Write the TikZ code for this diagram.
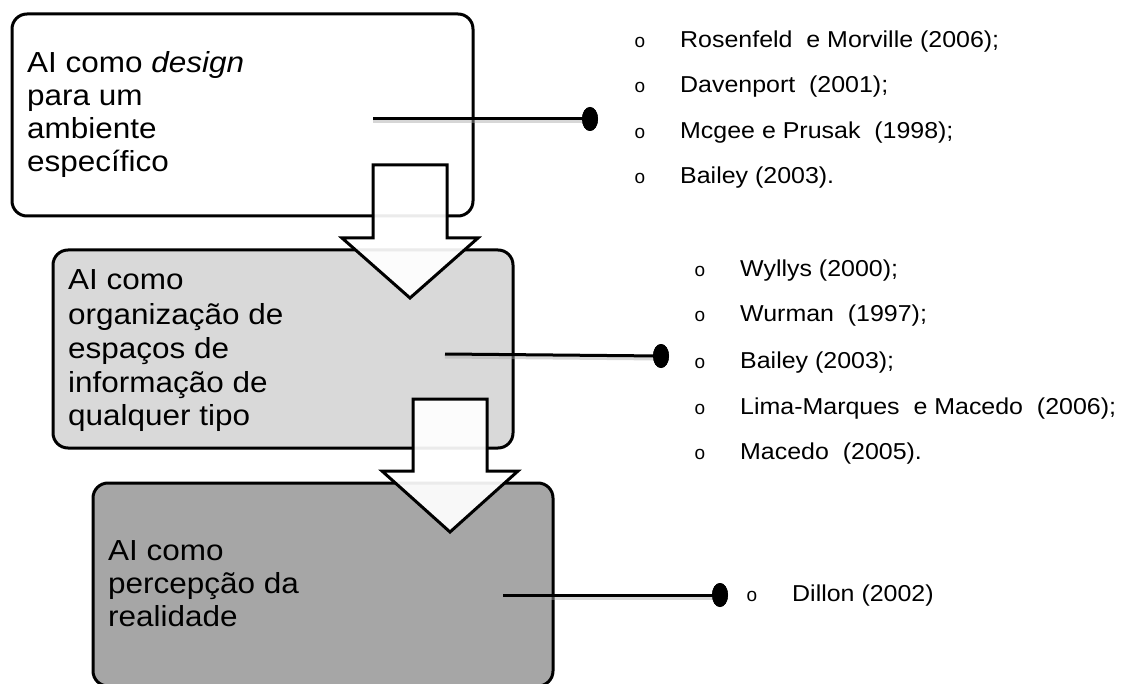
\documentclass[tikz,border=0pt]{standalone}
\usepackage{fontspec}
\setmainfont{Liberation Sans}[FakeStretch=1.085]
\newfontfamily\bulletfont{Liberation Sans}
\usetikzlibrary{shapes.geometric}
\definecolor{gA}{HTML}{D9D9D9}
\definecolor{gB}{HTML}{A6A6A6}
\tikzset{
  box/.style={draw=black,line width=3pt,rounded corners=15pt},
  bigarrow/.style={draw=black,line width=3pt,fill=white,fill opacity=0.92,line join=miter},
  conn/.style={line width=3pt,black},
  connshadow/.style={line width=4pt,black!35,opacity=0.45},
  dotnode/.style={ellipse,fill=black,draw=none,minimum width=16pt,minimum height=24pt,inner sep=0pt},
  boxtext/.style={anchor=base west,inner sep=0pt,font=\fontsize{29}{33}\selectfont},
  item/.style={anchor=base west,inner sep=0pt,font=\fontsize{23}{27}\selectfont},
  bul/.style={anchor=base,inner sep=0pt,font=\bulletfont\fontsize{19}{24}\selectfont},
}
\begin{document}
\begin{tikzpicture}[x=1pt,y=-1pt]
\useasboundingbox (0,0) rectangle (1121,684);
% boxes
\draw[box,fill=white] (12,14) rectangle (473,216);
\draw[box,fill=gA] (53,250) rectangle (513,448);
\draw[box,fill=gB] (93,483) rectangle (553,686);
% box texts
\node[boxtext] (b1a) at (27,73) {AI como \textit{design}};
\node[boxtext] (b1b) at (27,106) {para um};
\node[boxtext] (b1c) at (27,139) {ambiente};
\node[boxtext] (b1d) at (27,172) {específico};
\node[boxtext] (b2a) at (68,290) {AI como};
\node[boxtext] (b2b) at (68,324) {organização de};
\node[boxtext] (b2c) at (68,358) {espaços de};
\node[boxtext] (b2d) at (68,392) {informação de};
\node[boxtext] (b2e) at (68,425) {qualquer tipo};
\node[boxtext] (b3a) at (108,560) {AI como};
\node[boxtext] (b3b) at (108,593) {percepção da};
\node[boxtext] (b3c) at (108,626) {realidade};
% block arrows
\draw[bigarrow] (373,165) -- (447,165) -- (447,238) -- (478,238) -- (410,298) -- (342,238) -- (373,238) -- cycle;
\draw[bigarrow] (413,399) -- (487,399) -- (487,471) -- (518,471) -- (450,532) -- (382,471) -- (413,471) -- cycle;
% connectors
\coordinate (s1) at (373,119);
\coordinate (s2) at (445,354);
\coordinate (s3) at (503,595);
\node[dotnode] (d1) at (590,119) {};
\node[dotnode] (d2) at (661,356) {};
\node[dotnode] (d3) at (720,595) {};
\draw[connshadow] ([yshift=-2.5pt]s1) -- ([yshift=-2.5pt]d1.center);
\draw[connshadow] ([yshift=-2.5pt]s2) -- ([yshift=-2.5pt]d2.center);
\draw[connshadow] ([yshift=-2.5pt]s3) -- ([yshift=-2.5pt]d3.center);
\draw[conn] (s1) -- (d1.center);
\draw[conn] (s2) -- (d2.center);
\draw[conn] (s3) -- (d3.center);
\node[dotnode] at (d1) {};
\node[dotnode] at (d2) {};
\node[dotnode] at (d3) {};
% list 1
\node[bul] (o11) at (640,48) {o};
\node[bul] (o12) at (640,93) {o};
\node[bul] (o13) at (640,139) {o};
\node[bul] (o14) at (640,184) {o};
\node[item] (t11) at (680,48) {Rosenfeld\ \ e Morville (2006);};
\node[item] (t12) at (680,93) {Davenport\ \ (2001);};
\node[item] (t13) at (680,139) {Mcgee e Prusak\ \ (1998);};
\node[item] (t14) at (680,184) {Bailey (2003).};
% list 2
\node[bul] (o21) at (700,277) {o};
\node[bul] (o22) at (700,322) {o};
\node[bul] (o23) at (700,368) {o};
\node[bul] (o24) at (700,414) {o};
\node[bul] (o25) at (700,459) {o};
\node[item] (t21) at (740,277) {Wyllys (2000);};
\node[item] (t22) at (740,322) {Wurman\ \ (1997);};
\node[item] (t23) at (740,368) {Bailey (2003);};
\node[item] (t24) at (740,414) {Lima-Marques\ \ e Macedo\ \ (2006);};
\node[item] (t25) at (740,459) {Macedo\ \ (2005).};
% list 3
\node[bul] (o31) at (752,601) {o};
\node[item] (t31) at (792,601) {Dillon (2002)};
\end{tikzpicture}
\end{document}
